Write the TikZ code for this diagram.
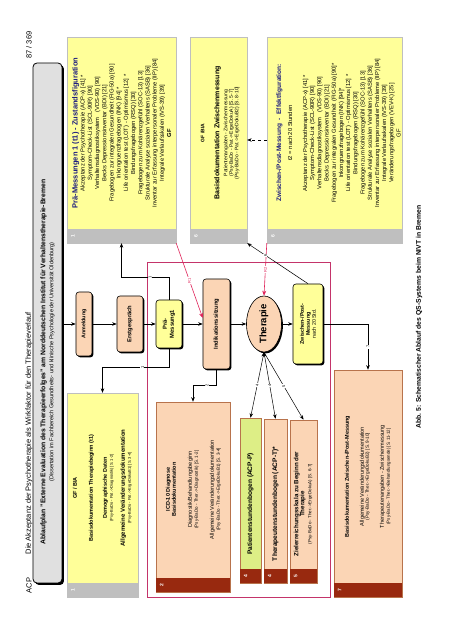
\documentclass[tikz,border=0pt]{standalone}
\usepackage{fontspec}
\setmainfont{Liberation Sans}
\setsansfont{Liberation Sans}
\usepackage{tikz}
\usetikzlibrary{shapes.geometric, arrows.meta, positioning, calc, shadows}
\definecolor{boxyellow}{HTML}{FFFF99}
\definecolor{stripgray}{HTML}{BFBFBF}
\definecolor{boxpeach}{HTML}{FBD5B5}
\definecolor{peachline}{HTML}{B8734C}
\definecolor{stripred}{HTML}{98290F}
\definecolor{boxgreen}{HTML}{DDEE86}
\definecolor{framered}{HTML}{C4346A}
\definecolor{arrowred}{HTML}{E0245A}
\definecolor{titlegray}{HTML}{E0E0E0}
\definecolor{headnavy}{HTML}{1C1C7E}

\begin{document}
\begin{tikzpicture}[rotate=90, transform shape, x=1pt, y=1pt,
    >={Stealth[length=4.5pt, width=3.5pt]}, semithick, font=\sffamily,
    flow/.style={rectangle, rounded corners=3pt, draw=black, line width=0.6pt,
      fill=boxpeach, align=center, inner sep=1pt,
      font=\sffamily\bfseries\fontsize{5.8}{6.8}\selectfont,
      drop shadow={shadow xshift=1.4pt, shadow yshift=-1.4pt, fill=black, opacity=1}},
    ybox/.style={rectangle, draw=stripgray, line width=0.4pt, fill=boxyellow, inner sep=0pt},
    pbox/.style={rectangle, draw=peachline, line width=0.5pt, fill=boxpeach, inner sep=0pt},
    boxnum/.style={font=\sffamily\bfseries\fontsize{5}{5}\selectfont, text=white, inner sep=0pt},
    boxtext/.style={align=center, inner sep=0pt, execute at begin node={\lineskiplimit=-10pt},
      font=\sffamily\fontsize{5.8}{7.2}\selectfont},
    lbl/.style={fill=white, inner sep=0.6pt, font=\sffamily\fontsize{4}{4}\selectfont},
    link/.style={->, line width=0.5pt},
    redlink/.style={->, line width=0.6pt, draw=arrowred, >={Stealth[length=5pt, width=4pt]}}]

    \fill[white] (0,0) rectangle (640,452);
    \useasboundingbox (0,0) rectangle (640,452);

    % Header
    \node[anchor=west, font=\sffamily\fontsize{7.5}{8}\selectfont] (acp) at (43,423) {ACP};
    \node[anchor=west, font=\sffamily\fontsize{7.5}{8}\selectfont] (kopf) at (82,423)
      {Die Akzeptanz der Psychotherapie als Wirkfaktor für den Therapieverlauf};
    \node[anchor=east, font=\sffamily\fontsize{7.5}{8}\selectfont] (seite) at (612,423) {87 / 369};

    \node[rectangle, rounded corners=4pt, draw=black, line width=0.8pt, fill=titlegray,
      minimum width=520pt, minimum height=29pt,
      drop shadow={shadow xshift=2pt, shadow yshift=-2pt, fill=black, opacity=1}] (ablauf) at (317,404.5) {};
    \node[boxtext] (ablauftxt) at (278,404.5)
      {{\bfseries\fontsize{6.8}{8}\selectfont Ablaufplan "Externe Evaluation des Therapieerfolges" am Norddeutschen Institut für Verhaltenstherapie-Bremen}\\[1pt]
       {\fontsize{5.6}{6}\selectfont (Dissertation im Fachbereich Gesundheits- und klinische Psychologie der Universität Oldenburg)}};

    % Red frame
    \draw[framered, line width=0.8pt] (43,122) rectangle (378,305);

    % Boxes left
    \node[ybox, minimum width=204pt, minimum height=71pt] (basis1) at (145,349.5) {};
    \node[pbox, minimum width=190pt, minimum height=74pt] (icd) at (143,259) {};
    \node[pbox, fill=boxgreen, minimum width=165pt, minimum height=21pt] (pstd) at (139.5,201.5) {};
    \node[pbox, minimum width=164pt, minimum height=23pt] (tstd) at (139,176.5) {};
    \node[pbox, minimum width=163pt, minimum height=27pt] (ziel) at (138.5,148.5) {};
    \node[pbox, minimum width=227pt, minimum height=68pt] (bdok7) at (156.5,84) {};

    % Boxes right
    \node[ybox, minimum width=206pt, minimum height=109pt] (prae) at (500,330.5) {};
    \node[ybox, minimum width=206pt, minimum height=57pt] (gfbia) at (500,233.5) {};
    \node[ybox, minimum width=206pt, minimum height=135pt] (effekt) at (500,117.5) {};

    \foreach \b/\c/\n in {basis1/stripgray/1, prae/stripgray/1, gfbia/stripgray/6,
        effekt/stripgray/6, icd/stripred/2, pstd/stripred/4, tstd/stripred/4,
        ziel/stripred/5, bdok7/stripred/7} {
      \fill[\c] (\b.south west) rectangle ([xshift=14pt]\b.north west);
      \node[boxnum] (\b num) at ([xshift=7pt, yshift=-6pt]\b.north west) {\n};
    }

    % Box texts
    \node[boxtext, anchor=north, font=\sffamily\bfseries\fontsize{5.5}{6}\selectfont] (basis1txt) at (152,379.5)
      {GF / BIA\\[10pt]
       Basisdokumentation Therapiebeginn (t1)\\[8pt]
       Demographische Daten\\
       {\mdseries\fontsize{4}{4}\selectfont (Psy-BaDo - Pat.->Diagnostik) [S. 1-2]}\\[6pt]
       {\fontsize{6}{6}\selectfont Allgemeine Veränderungsdokumentation}\\
       {\mdseries\fontsize{4}{4}\selectfont (Psy-BaDo - Pat.->ErgeDokuB1) [S. 3-4]}};

    \node[boxtext, anchor=north, font=\sffamily\fontsize{5.5}{6}\selectfont] (icdtxt) at (150.5,286.5)
      {\textbf{ICD-10 Diagnose}\\
       \textbf{Basisdokumentation}\\[10pt]
       Diagnostik/Behandlungsbeginn\\
       {\fontsize{4.5}{4.5}\selectfont (Psy-BaDo - Ther.->Diagnostik) [S. 1-2]}\\[10pt]
       Allgemeine Veränderungsdokumentation\\
       {\fontsize{4.5}{4.5}\selectfont (Psy-BaDo - Ther.->ErgeDokuB1) [S. 3-4]}};

    \node[boxtext, font=\sffamily\bfseries\fontsize{6.6}{7}\selectfont] (pstdtxt) at (136,201.5)
      {Patientenstundenbogen (ACP-P)};
    \node[boxtext, font=\sffamily\bfseries\fontsize{6.6}{7}\selectfont] (tstdtxt) at (136,176.5)
      {Therapeutenstundenbogen (ACP-T)*};
    \node[boxtext, anchor=north, font=\sffamily\bfseries\fontsize{6.2}{6}\selectfont] (zieltxt) at (136,158.5)
      {Zielerreichungsskala zu Beginn der\\
       Therapie\\[1pt]
       {\mdseries\fontsize{4.5}{4.5}\selectfont (Psy-BaDo - Ther.->ErgeDokuA) [S. 6-7]}};

    \node[boxtext, anchor=north, font=\sffamily\fontsize{5.5}{5.5}\selectfont] (bdok7txt) at (163.5,107.5)
      {\textbf{Basisdokumentation Zwischen-/Post-Messung}\\[9.5pt]
       Allgemeine Veränderungsdokumentation\\[-0.5pt]
       {\fontsize{4.6}{4.6}\selectfont (Psy-BaDo - Ther.->ErgeDokuB2) [S. 9-10]}\\[9.5pt]
       Therapeutenangaben - Zwischenmessung\\[0.5pt]
       {\fontsize{4.4}{4.4}\selectfont (Psy-BaDo - Ther.->Behandlungsende) [S. 11-12]}};

    \node[boxtext, anchor=north] (praetxt) at (507,380)
      {{\color{headnavy}\bfseries\fontsize{7.5}{8}\selectfont Prä-Messungen 1 (t1) - Zustandsfiguration}\\[-0.2pt]
       Akzeptanz der Psychotherapie (ACP-x) [41] *\\
       Symptom-Check-List (SCL-90R) [90]\\
       Verhaltensdiagnostiksystem \ \ (VDS-90) [90]\\
       Becks Depressionsinventar (BDI) [21]\\
       Fragebogen zur integralen Gesundheit (FIG-50a) [90]\\
       Inkongruenzfragebogen (INK) [94] *\\
       Life orientation test (LOT) - Optimismus [12] *\\
       Bindungsfragebogen (RSQ) [30]\\
       Fragebogen zum Kohärenzgefühl (SOC-13) [13]\\
       Strukturale Analyse sozialen Verhaltens (SASB) [36]\\
       Inventar zur Erfassung interpersonaler Probleme (IIP) [84]\\
       Integrale Verlaufsskalen (IVS-39) [39]\\
       \textbf{GF}};

    \node[boxtext, anchor=north, font=\sffamily\fontsize{5}{5.5}\selectfont] (gfbiatxt) at (507,251.5)
      {\textbf{GF /BIA}\\[9.5pt]
       {\bfseries\fontsize{7}{7}\selectfont Basisdokumentation Zwischenmessung}\\[2.5pt]
       Patientenangaben - Zwischenmessung\\
       (Psy-BaDo - Pat.->ErgeDokuA) [S. 5-7]\\
       (Psy-BaDo - Pat.->ErgeDokuB2) [S. 8-10]};

    \node[boxtext, anchor=north] (effekttxt) at (507,176)
      {{\color{headnavy}\bfseries\fontsize{6.5}{7}\selectfont Zwischen-/Post-Messung \ - \ Effektfiguration:}\\[3.8pt]
       t2 = nach 20 Stunden\\[7.8pt]
       Akzeptanz der Psychotherapie (ACP-x) [41] *\\
       Symptom-Check-List (SCL-90R) [90]\\
       Verhaltensdiagnostiksystem \ \ (VDS-90) [90]\\
       Becks Depressionsinventar (BDI) [21]\\
       Fragebogen zur integralen Gesundheit (FIG-50a) [90]*\\
       Inkongruenzfragebogen (INK) [94]*\\
       Life orientation test (LOT) - Optimismus [12] *\\
       Bindungsfragebogen (RSQ) [30]\\
       Fragebogen zum Kohärenzgefühl (SOC-13) [13]\\
       Strukturale Analyse sozialen Verhaltens (SASB) [36]\\
       Inventar zur Erfassung interpersonaler Probleme (IIP) [84]\\
       Integrale Verlaufsskalen (IVS-39) [39]\\
       Veränderungsfragebogen (VEV-K) [25]\\
       GF};

    % Flow
    \node[flow, minimum width=64pt, minimum height=16pt, font=\sffamily\bfseries\fontsize{5.3}{6}\selectfont] (anm) at (316,368) {Anmeldung};
    \node[flow, minimum width=56pt, minimum height=26pt] (erst) at (316,322) {Erstgespräch};
    \node[flow, fill=boxyellow, minimum width=48pt, minimum height=26pt] (praem) at (316,283) {Prä-\\Messung1};
    \node[flow, minimum width=90pt, minimum height=27pt] (indi) at (316,235.5) {Indikationssitzung};
    \node[flow, ellipse, inner sep=0pt, minimum width=53pt, minimum height=35pt,
      font=\sffamily\bfseries\fontsize{9.5}{10}\selectfont] (ther) at (316,188) {Therapie};
    \node[flow, fill=boxyellow, minimum width=80pt, minimum height=30pt,
      font=\sffamily\bfseries\fontsize{5.3}{6}\selectfont] (zwip) at (316,144)
      {Zwischen-/Post-\\Messung\\{\mdseries nach 20 Std.}};

    % Connectors
    \draw[link] (ablauf.south -| anm.north) -- (anm.north);
    \draw[link] (anm) -- (erst);
    \draw[link] (erst) -- (praem);
    \draw[link] (praem) -- (indi);
    \draw[link] (indi) -- (ther);
    \draw[link] (ther) -- (zwip);
    \draw[link] (zwip) |- node[lbl, pos=0.75] {7} (bdok7);

    \draw[link] (praem.east) -- ++(22,0) |- node[lbl, pos=0.2] {1} (prae.west);
    \draw[link] (praem.west) -- ++(-19,0) |- node[lbl, pos=0.2] {1} (basis1.east);
    \draw[link] (indi.west) -- ++(-16,0) |- node[lbl, pos=0.2] {2} (icd.east);

    \draw[<->, line width=0.5pt] (ther.west) -- node[lbl] {4} (pstd.east);
    \draw[<->, line width=0.5pt] (ther.west) -- node[lbl] {4} (tstd.east);
    \draw[link] (ther.west) -- node[lbl] {5} (ziel.east);

    \draw[redlink] (prae.south west) -- node[lbl, text=arrowred] {R1} ([xshift=6pt]indi.north);
    \draw[redlink] (effekt.north west) -- node[lbl, text=arrowred] {R2} (ther.east);

    \draw[link, dashed] (effekt.north) -- (gfbia.south);
    \draw[link] (zwip.east) -- node[lbl, pos=0.7] {6} (gfbia.south west);

    % Caption
    \node[font=\sffamily\bfseries\fontsize{6.8}{7}\selectfont] (abb) at (323,33)
      {Abb. 5: Schematischer Ablauf des QS-Systems beim NIVT in Bremen};
\end{tikzpicture}
\end{document}
